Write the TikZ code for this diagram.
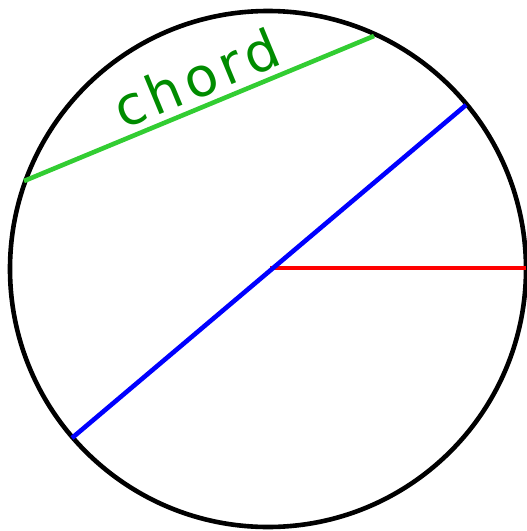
\documentclass[tikz,border=0pt]{standalone}
\usepackage{fontspec}
\newfontfamily\handfont[LetterSpace=10]{DejaVu Sans}
\definecolor{chordgreen}{RGB}{50,205,50}
\definecolor{textgreen}{RGB}{0,140,0}
\begin{document}
\begin{tikzpicture}[x=1pt,y=-1pt,
  seg/.style={line width=4.6pt},
  lbl/.style={text=textgreen,font=\handfont\fontsize{54}{54}\selectfont,inner sep=0pt}]
\useasboundingbox (0,0) rectangle (527,531);
\coordinate (O) at (268,269);
\draw[line width=4.6pt] (O) circle[radius=258];
\coordinate (g1) at (24,181);
\coordinate (g2) at (374,36);
\coordinate (b1) at (72,438);
\coordinate (b2) at (466,105);
\coordinate (r1) at (270,268);
\coordinate (r2) at (526,268);
\draw[seg,chordgreen] (g1) -- (g2);
\draw[seg,red] (r1) -- (r2);
\draw[seg,blue] (b1) -- (b2);
\node[lbl,rotate=22.5] (t) at (196,78) {chord};
\end{tikzpicture}
\end{document}
